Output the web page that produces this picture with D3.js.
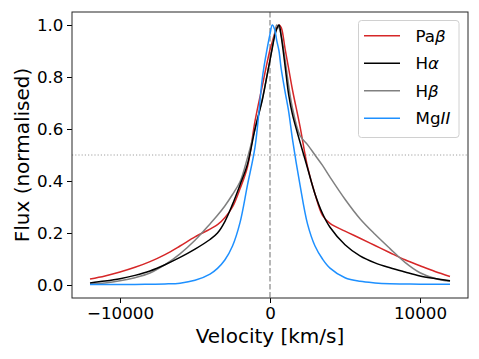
<!DOCTYPE html>
<html>
<head>
<meta charset="utf-8">
<script src="https://cdn.jsdelivr.net/npm/d3@7"></script>
<style>
  html, body { margin: 0; padding: 0; background: #fff; }
  svg { display: block; font-family: "DejaVu Sans", sans-serif; }
</style>
</head>
<body>
<script>
// ---- data ----
const velocity = [-12000,-11000,-10000,-9000,-8000,-7000,-6000,-5000,-4000,-3500,-3000,-2500,-2000,-1500,-1000,-500,-250,0,150,300,450,600,750,1000,1250,1500,2000,2500,3000,3500,4000,5000,6000,7000,8000,9000,10000,11000,12000];

const fluxPaBeta = [0.023,0.035,0.05,0.068,0.09,0.117,0.15,0.185,0.215,0.232,0.26,0.30,0.37,0.455,0.63,0.77,0.84,0.905,0.935,0.965,0.99,1.0,0.99,0.91,0.83,0.75,0.61,0.455,0.35,0.268,0.237,0.207,0.18,0.152,0.124,0.097,0.074,0.052,0.033];
const fluxHAlpha = [0.008,0.015,0.024,0.037,0.054,0.078,0.106,0.138,0.175,0.2,0.245,0.31,0.385,0.465,0.6,0.715,0.79,0.865,0.91,0.955,0.985,1.0,0.955,0.845,0.73,0.655,0.55,0.45,0.35,0.275,0.222,0.155,0.112,0.085,0.066,0.05,0.035,0.025,0.016];
const fluxHBeta  = [0.004,0.008,0.016,0.028,0.046,0.078,0.12,0.172,0.235,0.268,0.305,0.348,0.397,0.49,0.6,0.72,0.79,0.865,0.915,0.96,1.0,0.99,0.96,0.87,0.765,0.68,0.575,0.54,0.5,0.46,0.415,0.33,0.255,0.195,0.14,0.087,0.047,0.025,0.014];
const fluxMgII   = [0.002,0.002,0.002,0.002,0.003,0.004,0.007,0.018,0.042,0.064,0.097,0.15,0.24,0.385,0.53,0.80,0.89,0.965,1.0,0.985,0.94,0.90,0.83,0.745,0.665,0.56,0.385,0.235,0.15,0.10,0.065,0.028,0.014,0.008,0.005,0.004,0.003,0.003,0.003];

const xTicks = [-10000, 0, 10000];
const yTicks = [0.0, 0.2, 0.4, 0.6, 0.8, 1.0];

const seriesNames = ["PaBeta", "HAlpha", "HBeta", "MgII"];
const seriesColors = ["#d62728", "#000000", "#808080", "#1e90ff"];
const seriesFlux = [fluxPaBeta, fluxHAlpha, fluxHBeta, fluxMgII];
// legend label parts: [text, italic]
const seriesLabels = [
  [["Pa", false], ["β", true]],
  [["H", false], ["α", true]],
  [["H", false], ["β", true]],
  [["Mg", false], ["II", true]]
];

// ---- layout ----
const W = 479, H = 359;
const L = 72, R = 468, T = 12, B = 298;

const svg = d3.select("body").append("svg").attr("width", W).attr("height", H);

const x = d3.scaleLinear().domain([-13200, 13200]).range([L, R]);
const y = d3.scaleLinear().domain([-0.05, 1.05]).range([B, T]);

// reference lines
svg.append("line")
  .attr("x1", L).attr("x2", R)
  .attr("y1", y(0.5)).attr("y2", y(0.5))
  .attr("stroke", "#a0a0a0").attr("stroke-width", 1)
  .attr("stroke-dasharray", "1.2,2");
svg.append("line")
  .attr("x1", x(0)).attr("x2", x(0))
  .attr("y1", T).attr("y2", B)
  .attr("stroke", "#909090").attr("stroke-width", 1.3)
  .attr("stroke-dasharray", "5.5,2.5");

// curves
const line = d3.line().curve(d3.curveCatmullRom.alpha(0.5))
  .x(d => x(d[0])).y(d => y(d[1]));

const drawOrder = [0, 2, 1, 3];
drawOrder.forEach(i => {
  const pts = velocity.map((v, k) => [v, seriesFlux[i][k]]);
  svg.append("path")
    .attr("d", line(pts))
    .attr("fill", "none")
    .attr("stroke", seriesColors[i])
    .attr("stroke-width", 1.5)
    .attr("stroke-linejoin", "round");
});

// axes
const xAxis = svg.append("g").attr("transform", `translate(0,${B})`)
  .call(d3.axisBottom(x).tickValues(xTicks).tickSize(5).tickFormat(d3.format("d")));
xAxis.select(".domain").remove();
xAxis.selectAll("text").attr("y", 21).attr("dy", "0")
  .attr("font-size", "16.7px").attr("fill", "#000").attr("font-family", "DejaVu Sans");
xAxis.selectAll("line").attr("stroke", "#000");

const yAxis = svg.append("g").attr("transform", `translate(${L},0)`)
  .call(d3.axisLeft(y).tickValues(yTicks).tickSize(5).tickPadding(3.5).tickFormat(d3.format(".1f")));
yAxis.select(".domain").remove();
yAxis.selectAll("text").attr("font-size", "16.7px").attr("fill", "#000").attr("font-family", "DejaVu Sans");
yAxis.selectAll("line").attr("stroke", "#000");

// frame
svg.append("rect")
  .attr("x", L).attr("y", T).attr("width", R - L).attr("height", B - T)
  .attr("fill", "none").attr("stroke", "#262626").attr("stroke-width", 1);

// axis labels
svg.append("text")
  .attr("x", (L + R) / 2).attr("y", 343)
  .attr("text-anchor", "middle").attr("font-size", "20px").attr("fill", "#000")
  .text("Velocity [km/s]");
svg.append("text")
  .attr("transform", `translate(29,${(T + B) / 2}) rotate(-90)`)
  .attr("text-anchor", "middle").attr("font-size", "20px").attr("fill", "#000")
  .text("Flux (normalised)");

// legend
const lg = svg.append("g");
lg.append("rect")
  .attr("x", 358.5).attr("y", 20.5).attr("width", 100.5).attr("height", 117)
  .attr("rx", 3).attr("ry", 3)
  .attr("fill", "#fff").attr("fill-opacity", 0.8)
  .attr("stroke", "#d0d0d0").attr("stroke-width", 1);
const rowY = d => 35.7 + d * 27.5;
seriesNames.forEach((n, i) => {
  lg.append("line")
    .attr("x1", 364).attr("x2", 400)
    .attr("y1", rowY(i)).attr("y2", rowY(i))
    .attr("stroke", seriesColors[i]).attr("stroke-width", 1.5);
  const t = lg.append("text")
    .attr("x", 415.5).attr("y", rowY(i)).attr("dy", "0.36em")
    .attr("font-size", "16.7px").attr("fill", "#000");
  seriesLabels[i].forEach(([s, it]) => {
    t.append("tspan").attr("font-style", it ? "italic" : "normal").text(s);
  });
});
</script>
</body>
</html>
